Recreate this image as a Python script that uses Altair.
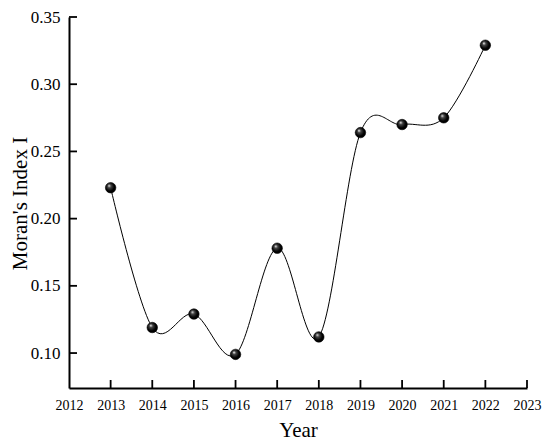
import altair as alt
import pandas as pd

years = [2013, 2014, 2015, 2016, 2017, 2018, 2019, 2020, 2021, 2022]
moran = [0.223, 0.119, 0.129, 0.099, 0.178, 0.112, 0.264, 0.270, 0.275, 0.329]
x_ticks = [2013, 2014, 2015, 2016, 2017, 2018, 2019, 2020, 2021, 2022, 2023]
y_ticks = [0.10, 0.15, 0.20, 0.25, 0.30, 0.35]

df = pd.DataFrame({"Year": years, "I": moran})
xt = pd.DataFrame({"Year": x_ticks})
yt = pd.DataFrame({"I": y_ticks})

FONT = "Liberation Serif"
W = 458
H = 371
xs = alt.Scale(domain=[2012, 2023], nice=False, zero=False)
ys = alt.Scale(domain=[0.074, 0.35], nice=False, zero=False)

xaxis = alt.Axis(title="Year", values=list(range(2012, 2024)), format="d",
                 tickSize=0, grid=False, domainColor="black", domainWidth=2,
                 labelOverlap=False, labelFlush=False,
                 labelFont=FONT, labelFontSize=14, labelColor="black", labelPadding=10,
                 titleFont=FONT, titleFontSize=21, titleFontWeight="normal",
                 titleColor="black", titleX=229, titleY=42, titleAlign="center",
                 titleBaseline="middle")
yaxis = alt.Axis(title="Moran's Index I", values=y_ticks, format=".2f",
                 tickSize=0, grid=False, domainColor="black", domainWidth=2,
                 labelOverlap=False, labelFlush=False,
                 labelFont=FONT, labelFontSize=17, labelColor="black", labelPadding=9,
                 titleFont=FONT, titleFontSize=21, titleFontWeight="normal",
                 titleColor="black", titleX=-49, titleY=186, titleAngle=-90,
                 titleAlign="center", titleBaseline="middle")

line = alt.Chart(df).mark_line(interpolate="cardinal", color="black", strokeWidth=1).encode(
    x=alt.X("Year:Q", scale=xs, axis=xaxis),
    y=alt.Y("I:Q", scale=ys, axis=yaxis),
)

ball = alt.Gradient(
    gradient="radial", x1=0.35, y1=0.3, r1=0.0, x2=0.45, y2=0.45, r2=0.55,
    stops=[alt.GradientStop(color="#ffffff", offset=0),
           alt.GradientStop(color="#444444", offset=0.3),
           alt.GradientStop(color="#000000", offset=0.75)],
)
pts = alt.Chart(df).mark_point(shape="circle", filled=True, size=110, fill=ball,
                               stroke="black", strokeWidth=0.6, opacity=1).encode(
    x=alt.X("Year:Q", scale=xs), y=alt.Y("I:Q", scale=ys))

xtick = alt.Chart(xt).mark_rule(color="black", strokeWidth=1.8).encode(
    x=alt.X("Year:Q", scale=xs), y=alt.value(H), y2=alt.value(H - 8))
ytick = alt.Chart(yt).mark_rule(color="black", strokeWidth=1.8).encode(
    y=alt.Y("I:Q", scale=ys), x=alt.value(0), x2=alt.value(8))

chart = alt.layer(line, xtick, ytick, pts).properties(
    width=W, height=H,
    autosize=alt.AutoSizeParams(type="none"),
    padding={"left": 61, "top": 9, "right": 15, "bottom": 55},
).configure_view(stroke=None)

chart.save("out.html", embed_options={"renderer": "svg", "actions": False})
